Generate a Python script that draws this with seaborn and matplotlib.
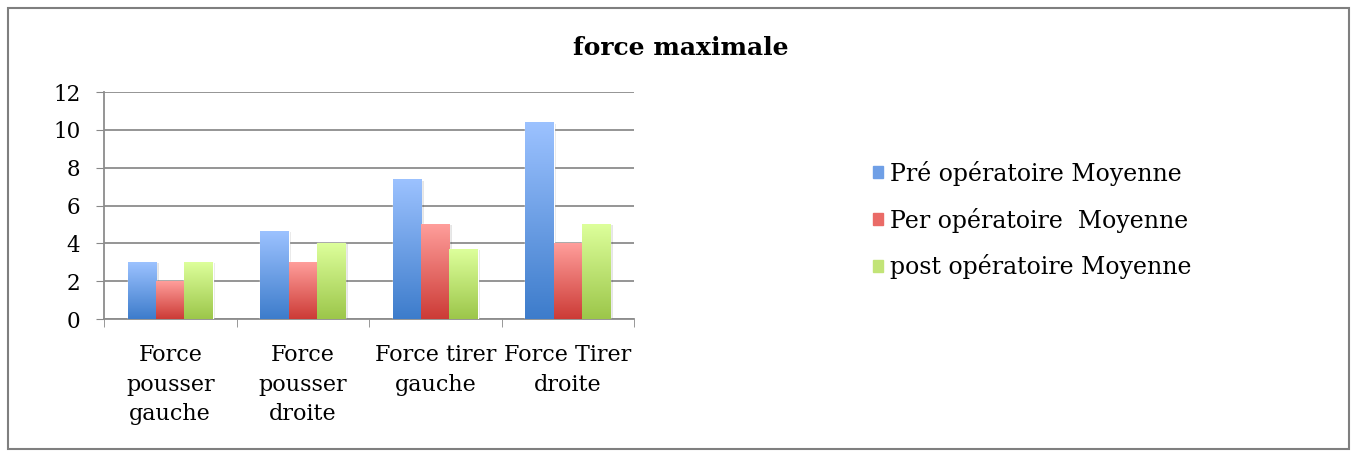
import numpy as np
import pandas as pd
import matplotlib
matplotlib.use("Agg")
import matplotlib.pyplot as plt
import seaborn as sns
from matplotlib.colors import LinearSegmentedColormap
from matplotlib.patches import Rectangle

categories = ["Force\npousser\ngauche", "Force\npousser\ndroite", "Force tirer\ngauche", "Force Tirer\ndroite"]
series = ["Pré opératoire Moyenne", "Per opératoire  Moyenne", "post opératoire Moyenne"]
pre_vals = [3.0, 4.65, 7.35, 10.38]
per_vals = [2.0, 3.0, 5.0, 4.0]
post_vals = [3.0, 4.0, 3.7, 5.0]

# gradient (top, bottom) per series
grad = {
    series[0]: ("#9cc2ff", "#3d7ccb"),
    series[1]: ("#ff9e9b", "#cc3b36"),
    series[2]: ("#ddff9b", "#9cc64a"),
}
mid = {series[0]: "#6f9fe6", series[1]: "#ea6b67", series[2]: "#c2e477"}

df = pd.DataFrame({
    "cat": categories * 3,
    "serie": [series[0]] * 4 + [series[1]] * 4 + [series[2]] * 4,
    "val": pre_vals + per_vals + post_vals,
})

sns.set_style("white")
plt.rcParams["font.family"] = ["DejaVu Serif"]
plt.rcParams["text.color"] = "black"
plt.rcParams["xtick.labelcolor"] = "black"
plt.rcParams["ytick.labelcolor"] = "black"

fig = plt.figure(figsize=(13.57, 4.57), dpi=100)
ax = fig.add_axes([104 / 1357, 1 - 319 / 457, 530 / 1357, 227 / 457])

sns.barplot(data=df, x="cat", y="val", hue="serie", hue_order=series,
            palette=mid, width=0.64, ax=ax, legend=False, zorder=3)

# gradient fill on each bar
for i, s in enumerate(series):
    cmap = LinearSegmentedColormap.from_list(s, [grad[s][1], grad[s][0]])
    for p in ax.containers[i]:
        x0, y0, w, h = p.get_x(), p.get_y(), p.get_width(), p.get_height()
        # soft shadow
        ax.add_patch(Rectangle((x0 + 0.02, y0), w, h - 0.05, color="#000000",
                               alpha=0.10, zorder=2, linewidth=0))
        g = np.linspace(0, 1, 256).reshape(-1, 1)
        ax.imshow(g, cmap=cmap, origin="lower", aspect="auto",
                  extent=(x0, x0 + w, y0, y0 + h), zorder=4)

ax.set_xlim(-0.5, 3.5)
ax.set_ylim(0, 12)
ax.set_yticks(range(0, 13, 2))
ax.tick_params(axis="y", labelsize=15.5, length=6, color="#888888", direction="out", left=True, pad=11)
ax.set_xticks(range(4))
ax.set_xticklabels(categories, fontsize=16, linespacing=1.45)
ax.set_xticks(np.arange(-0.5, 4, 1), minor=True)
ax.tick_params(axis="x", which="major", length=0, pad=18)
ax.tick_params(axis="x", which="minor", length=6, color="#888888", direction="out", bottom=True)
ax.set_xlabel("")
ax.set_ylabel("")
ax.grid(axis="y", color="#8c8c8c", linewidth=1.3, zorder=0)
ax.set_axisbelow(True)
for side in ["top", "right"]:
    ax.spines[side].set_visible(False)
for side in ["left", "bottom"]:
    ax.spines[side].set_color("#8c8c8c")
    ax.spines[side].set_linewidth(1.3)

handles = [Rectangle((0, 0), 1, 1, color=mid[s]) for s in series]
fig.legend(handles, series, loc="center left", bbox_to_anchor=(852 / 1357, 1 - 220 / 457),
           frameon=False, fontsize=17, handlelength=0.4, handleheight=0.4,
           handletextpad=0.3, labelspacing=0.92)

fig.text(0.502, 1 - 48 / 457, "force maximale", ha="center", va="center",
         fontsize=18, fontweight="bold")

fig.patches.append(Rectangle((8 / 1357, 8 / 457), 1 - 16 / 1357, 1 - 16 / 457,
                             transform=fig.transFigure, fill=False,
                             edgecolor="#7f7f7f", linewidth=1.5))

fig.savefig("out.png", dpi=100, facecolor="white")
